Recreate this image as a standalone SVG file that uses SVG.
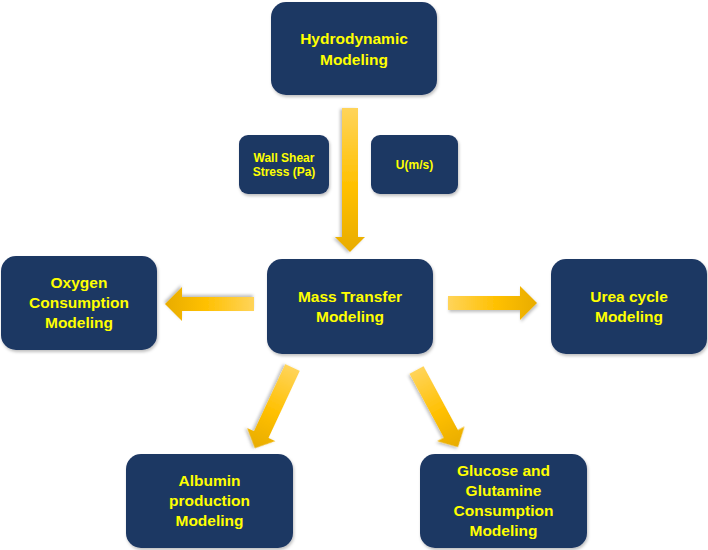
<svg xmlns="http://www.w3.org/2000/svg" width="708" height="550" viewBox="0 0 708 550">
<defs>
<linearGradient id="ag" x1="0" y1="0" x2="1" y2="0">
<stop offset="0" stop-color="#FFD45A"/>
<stop offset="0.55" stop-color="#FFC000"/>
<stop offset="1" stop-color="#E8AC00"/>
</linearGradient>
<filter id="sh" x="-20%" y="-20%" width="140%" height="140%">
<feDropShadow dx="1" dy="2" stdDeviation="1.5" flood-color="#000" flood-opacity="0.25"/>
</filter>
</defs>
<style>
.box{fill:#1F3864;filter:url(#sh)}
.t{font-family:"Liberation Sans",Arial,sans-serif;font-weight:bold;font-size:15.5px;fill:#FFFF00;text-anchor:middle}
.s{font-size:12px}
.arr{fill:url(#ag);filter:url(#sh)}
</style>
<rect width="708" height="550" fill="#fff"/>
<g id="connectors">
<path class="arr" transform="translate(350,108) rotate(90)" d="M0,-8 H129 V-15 L144,0 L129,15 V8 H0 Z"/>
<path class="arr" transform="translate(448,303)" d="M0,-7 H72 V-17 L89,0 L72,17 V7 H0 Z"/>
<path class="arr" transform="translate(254,304) rotate(180)" d="M0,-7 H72 V-17 L89,0 L72,17 V7 H0 Z"/>
<path class="arr" transform="translate(292.5,367.5) rotate(115)" d="M0,-8 H74 V-15.5 L89,0 L74,15.5 V8 H0 Z"/>
<path class="arr" transform="translate(416.5,370) rotate(61.7)" d="M0,-8 H72.5 V-15.5 L87.5,0 L72.5,15.5 V8 H0 Z"/>
</g>
<g id="hydro">
<rect class="box" x="271" y="2" width="166" height="93" rx="15"/>
<text class="t" x="354" y="44">Hydrodynamic</text>
<text class="t" x="354" y="65">Modeling</text>
</g>
<g id="wss">
<rect class="box" x="239" y="135" width="90" height="59" rx="9"/>
<text class="t s" x="284" y="162">Wall Shear</text>
<text class="t s" x="284" y="176">Stress (Pa)</text>
</g>
<g id="u">
<rect class="box" x="371" y="135" width="87" height="59" rx="9"/>
<text class="t s" x="414.5" y="169">U(m/s)</text>
</g>
<g id="mass">
<rect class="box" x="267" y="259" width="166" height="95" rx="15"/>
<text class="t" x="350" y="302">Mass Transfer</text>
<text class="t" x="350" y="322">Modeling</text>
</g>
<g id="oxygen">
<rect class="box" x="1" y="256" width="156" height="94" rx="15"/>
<text class="t" x="79" y="288">Oxygen</text>
<text class="t" x="79" y="308">Consumption</text>
<text class="t" x="79" y="328">Modeling</text>
</g>
<g id="urea">
<rect class="box" x="551" y="259" width="156" height="95" rx="15"/>
<text class="t" x="629" y="302">Urea cycle</text>
<text class="t" x="629" y="322">Modeling</text>
</g>
<g id="albumin">
<rect class="box" x="126" y="454" width="167" height="94" rx="15"/>
<text class="t" x="209.5" y="486">Albumin</text>
<text class="t" x="209.5" y="506">production</text>
<text class="t" x="209.5" y="526">Modeling</text>
</g>
<g id="glucose">
<rect class="box" x="420" y="454" width="167" height="94" rx="15"/>
<text class="t" x="503.5" y="476">Glucose and</text>
<text class="t" x="503.5" y="496">Glutamine</text>
<text class="t" x="503.5" y="516">Consumption</text>
<text class="t" x="503.5" y="536">Modeling</text>
</g>
</svg>
